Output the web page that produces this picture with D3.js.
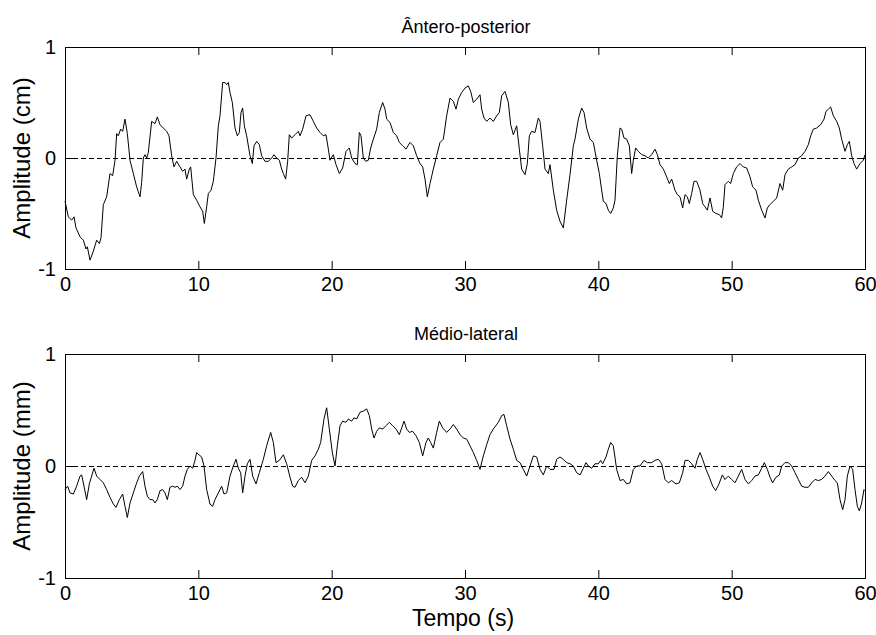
<!DOCTYPE html>
<html>
<head>
<meta charset="utf-8">
<script src="https://cdn.jsdelivr.net/npm/d3@7"></script>
<style>
  body { margin: 0; background: #fff; }
  text { font-family: "Liberation Sans", Arial, sans-serif; fill: #000; }
</style>
</head>
<body>
<svg width="876" height="635"></svg>
<script>
// time (s) and amplitude
var apTime = [0,0.25,0.5,0.675,0.825,1.125,1.375,1.575,1.675,1.875,2.125,2.375,2.575,2.7,2.875,3.125,3.375,3.575,3.75,3.875,
  4.0,4.175,4.325,4.5,4.675,4.875,5.125,5.375,5.625,5.75,5.875,6.0,6.125,6.25,6.5,6.75,6.925,7.125,7.375,7.625,
  7.8,8.0,8.175,8.375,8.625,8.825,9.0,9.125,9.325,9.425,9.625,9.875,10.125,10.325,10.45,10.625,10.75,10.95,11.125,11.325,
  11.5,11.625,11.825,12.0,12.125,12.25,12.375,12.55,12.75,12.925,13.075,13.2,13.325,13.45,13.625,13.875,14.05,14.175,14.375,14.575,
  14.75,15.0,15.25,15.5,15.675,15.875,16.075,16.25,16.375,16.55,16.7,16.825,17.0,17.25,17.5,17.625,17.825,18.075,18.375,18.625,
  18.875,19.125,19.375,19.575,19.75,19.875,20.125,20.325,20.575,20.825,21.075,21.325,21.5,21.75,21.925,22.075,22.2,22.375,22.55,22.75,
  22.925,23.125,23.375,23.575,23.825,24.0,24.125,24.375,24.625,24.875,25.075,25.325,25.575,25.875,26.125,26.375,26.625,26.825,27.0,27.175,
  27.375,27.625,27.875,28.125,28.375,28.625,28.875,29.125,29.325,29.5,29.75,30.0,30.25,30.425,30.625,30.875,31.125,31.25,31.425,31.625,
  31.875,32.125,32.375,32.575,32.75,33.0,33.25,33.425,33.625,33.875,34.075,34.25,34.5,34.675,34.825,35.0,35.25,35.5,35.625,35.825,
  36.0,36.25,36.375,36.625,36.875,37.125,37.375,37.625,37.875,38.125,38.25,38.5,38.75,38.925,39.125,39.375,39.625,39.875,40.075,40.25,
  40.375,40.575,40.75,40.925,41.125,41.25,41.425,41.625,41.75,41.925,42.125,42.325,42.5,42.625,42.8,43.0,43.25,43.5,43.75,44.0,
  44.25,44.425,44.625,44.875,45.125,45.325,45.5,45.75,45.925,46.125,46.325,46.5,46.675,46.825,47.0,47.175,47.375,47.625,47.825,48.0,
  48.175,48.375,48.575,48.825,49.075,49.25,49.375,49.5,49.75,49.925,50.125,50.375,50.625,50.875,51.125,51.375,51.575,51.825,52.0,52.25,
  52.5,52.675,52.875,53.125,53.375,53.625,53.825,54.0,54.25,54.5,54.75,55.0,55.25,55.5,55.75,55.925,56.125,56.375,56.675,56.925,
  57.075,57.25,57.425,57.625,57.875,58.075,58.25,58.5,58.675,58.825,59.0,59.175,59.375,59.625,59.875,60.0];
var apAmp = [-0.39,-0.53,-0.56,-0.53,-0.63,-0.71,-0.74,-0.82,-0.80,-0.92,-0.84,-0.74,-0.77,-0.72,-0.42,-0.35,-0.14,-0.16,-0.02,0.22,
  0.20,0.26,0.24,0.35,0.22,-0.02,-0.14,-0.26,-0.35,-0.22,0.0,0.03,0.0,0.05,0.33,0.31,0.37,0.30,0.27,0.24,
  0.20,0.02,-0.08,-0.03,-0.08,-0.12,-0.10,-0.19,-0.10,-0.08,-0.33,-0.38,-0.44,-0.48,-0.59,-0.44,-0.32,-0.29,-0.21,0.0,
  0.29,0.38,0.68,0.68,0.66,0.68,0.59,0.50,0.27,0.20,0.23,0.41,0.45,0.29,0.20,0.02,-0.05,0.11,0.15,0.12,
  0.02,-0.03,-0.03,0.0,0.03,0.0,-0.02,-0.10,-0.14,-0.19,-0.03,0.21,0.18,0.21,0.24,0.20,0.26,0.38,0.39,0.33,
  0.27,0.23,0.20,0.21,0.08,-0.02,0.03,-0.06,-0.14,-0.09,0.06,0.09,0.0,-0.05,-0.06,0.23,0.20,0.0,-0.03,-0.02,
  0.09,0.17,0.26,0.41,0.50,0.44,0.35,0.32,0.23,0.20,0.14,0.11,0.08,0.14,0.11,0.02,-0.05,-0.08,-0.19,-0.35,
  -0.23,-0.10,0.02,0.14,0.17,0.38,0.54,0.51,0.44,0.53,0.59,0.63,0.65,0.60,0.50,0.53,0.57,0.44,0.36,0.33,
  0.36,0.33,0.38,0.41,0.56,0.60,0.50,0.30,0.21,0.29,0.08,-0.10,-0.15,-0.05,0.20,0.24,0.23,0.36,0.33,0.11,
  -0.10,-0.14,-0.06,-0.29,-0.47,-0.57,-0.63,-0.38,-0.15,0.11,0.17,0.35,0.45,0.41,0.27,0.17,0.14,-0.02,-0.14,-0.29,
  -0.39,-0.41,-0.47,-0.50,-0.45,-0.38,0.02,0.27,0.26,0.18,0.17,0.11,-0.14,-0.02,0.09,0.06,0.03,0.02,0.0,0.03,
  0.08,0.03,-0.06,-0.10,-0.17,-0.23,-0.19,-0.29,-0.33,-0.35,-0.45,-0.33,-0.35,-0.41,-0.32,-0.21,-0.21,-0.29,-0.41,-0.44,
  -0.47,-0.36,-0.48,-0.50,-0.51,-0.54,-0.44,-0.24,-0.21,-0.23,-0.14,-0.08,-0.05,-0.08,-0.09,-0.17,-0.26,-0.29,-0.38,-0.47,
  -0.54,-0.45,-0.42,-0.39,-0.36,-0.23,-0.29,-0.15,-0.10,-0.08,-0.06,0.0,0.02,0.06,0.12,0.20,0.26,0.27,0.30,0.35,
  0.42,0.44,0.46,0.38,0.33,0.27,0.17,0.06,0.12,0.15,0.02,-0.05,-0.10,-0.05,-0.02,0.03];

var mlTime = [0,0.2,0.375,0.625,0.875,1.125,1.25,1.425,1.625,1.825,2.0,2.175,2.375,2.625,2.875,3.125,3.375,3.625,3.825,4.075,
  4.325,4.5,4.675,4.875,5.125,5.375,5.575,5.825,6.0,6.175,6.375,6.575,6.75,6.925,7.125,7.325,7.5,7.675,7.875,8.075,
  8.25,8.425,8.625,8.825,9.0,9.175,9.375,9.575,9.75,9.875,10.05,10.25,10.425,10.625,10.875,11.075,11.25,11.5,11.75,11.925,
  12.125,12.375,12.625,12.825,13.0,13.175,13.325,13.5,13.675,13.875,14.075,14.325,14.575,14.875,15.125,15.425,15.625,15.825,16.075,16.375,
  16.625,16.875,17.075,17.25,17.5,17.75,18.0,18.25,18.5,18.75,19.0,19.175,19.425,19.625,19.825,20.05,20.25,20.425,20.625,20.825,
  21.075,21.25,21.5,21.675,21.875,22.125,22.375,22.625,22.825,23.0,23.175,23.375,23.575,23.825,24.075,24.325,24.575,24.825,25.075,25.25,
  25.425,25.625,25.825,26.075,26.325,26.575,26.825,27.075,27.25,27.425,27.625,27.875,28.075,28.325,28.625,28.875,29.125,29.375,29.625,29.875,
  30.125,30.375,30.625,30.875,31.125,31.375,31.625,31.875,32.125,32.5,32.75,32.925,33.125,33.375,33.625,33.875,34.125,34.375,34.625,34.875,
  35.125,35.375,35.625,35.875,36.125,36.375,36.675,36.875,37.125,37.375,37.625,37.875,38.125,38.375,38.625,38.875,39.075,39.25,39.5,39.75,
  40.0,40.175,40.325,40.575,40.75,40.925,41.125,41.375,41.625,41.875,42.125,42.375,42.625,42.875,43.125,43.425,43.675,44.0,44.25,44.5,
  44.75,45.0,45.25,45.5,45.825,46.075,46.325,46.5,46.75,47.0,47.25,47.425,47.625,47.825,48.075,48.325,48.575,48.8,49.05,49.3,
  49.5,49.75,50.0,50.25,50.5,50.75,51.0,51.25,51.5,51.75,52.0,52.25,52.45,52.675,52.875,53.075,53.325,53.575,53.75,54.0,
  54.25,54.5,54.75,55.0,55.25,55.5,55.75,56.0,56.25,56.5,56.75,57.0,57.25,57.5,57.75,57.925,58.125,58.325,58.5,58.675,
  58.875,59.075,59.25,59.425,59.575,59.75,59.925,60.0];
var mlAmp = [-0.21,-0.18,-0.24,-0.25,-0.18,-0.09,-0.08,-0.18,-0.30,-0.16,-0.09,-0.02,-0.09,-0.12,-0.15,-0.21,-0.28,-0.34,-0.37,-0.30,
  -0.25,-0.36,-0.46,-0.33,-0.24,-0.15,-0.09,-0.05,-0.18,-0.27,-0.30,-0.30,-0.33,-0.30,-0.22,-0.21,-0.24,-0.30,-0.19,-0.18,
  -0.19,-0.18,-0.21,-0.18,-0.09,-0.03,0.0,-0.02,0.05,0.12,0.10,0.08,0.0,-0.21,-0.34,-0.36,-0.30,-0.24,-0.18,-0.25,
  -0.24,-0.09,0.0,0.06,-0.02,-0.06,-0.24,-0.09,0.02,0.06,-0.09,-0.16,-0.06,0.06,0.18,0.30,0.21,0.03,0.05,0.10,
  0.02,-0.10,-0.18,-0.19,-0.13,-0.10,-0.15,-0.09,0.05,0.09,0.15,0.21,0.42,0.52,0.33,0.12,0.0,0.18,0.36,0.40,
  0.39,0.42,0.40,0.43,0.42,0.48,0.49,0.51,0.45,0.33,0.25,0.31,0.34,0.33,0.36,0.39,0.36,0.33,0.28,0.34,
  0.40,0.33,0.30,0.31,0.27,0.21,0.09,0.21,0.25,0.21,0.16,0.30,0.40,0.34,0.30,0.33,0.37,0.33,0.28,0.25,
  0.24,0.18,0.12,0.05,-0.03,0.09,0.19,0.28,0.33,0.39,0.45,0.46,0.36,0.24,0.15,0.05,0.03,-0.03,-0.09,0.0,
  0.09,0.08,-0.03,-0.08,0.0,-0.03,-0.03,0.06,0.08,0.06,0.03,0.02,0.0,-0.06,-0.08,-0.02,0.03,0.0,-0.02,0.02,
  0.02,0.05,0.02,0.08,0.15,0.21,0.18,-0.03,-0.13,-0.12,-0.16,-0.15,-0.03,0.0,0.0,0.05,0.03,0.03,0.05,0.06,
  0.02,-0.12,-0.15,-0.13,-0.16,-0.15,-0.06,0.05,0.05,0.02,-0.02,0.06,0.12,0.06,-0.03,-0.10,-0.18,-0.22,-0.16,-0.08,
  -0.12,-0.09,-0.12,-0.15,-0.09,-0.03,-0.12,-0.16,-0.13,-0.09,-0.08,-0.02,0.03,-0.03,-0.10,-0.15,-0.10,-0.08,0.0,0.03,
  0.03,0.0,-0.06,-0.12,-0.18,-0.19,-0.19,-0.15,-0.12,-0.13,-0.12,-0.09,-0.05,-0.09,-0.13,-0.15,-0.30,-0.39,-0.30,-0.09,
  0.0,-0.03,-0.21,-0.36,-0.40,-0.33,-0.21,-0.22];

var xTicks = [0, 10, 20, 30, 40, 50, 60];
var yTicks = [-1, 0, 1];
var titles = ["Ântero-posterior", "Médio-lateral"];
var yLabels = ["Amplitude (cm)", "Amplitude (mm)"];
var xLabel = "Tempo (s)";

var svg = d3.select("svg");

var left = 65, right = 865;
var panels = [
  { top: 47, bottom: 269, time: apTime, amp: apAmp, title: titles[0], ylab: yLabels[0] },
  { top: 354, bottom: 578, time: mlTime, amp: mlAmp, title: titles[1], ylab: yLabels[1] }
];

var x = d3.scaleLinear().domain([0, 60]).range([left, right]);

// plain labels like "-1", "0", "1" (hyphen, no decimals)
function plain(d) { return String(d); }

panels.forEach(function(p) {
  var y = d3.scaleLinear().domain([-1, 1]).range([p.bottom, p.top]);
  var g = svg.append("g");

  // dashed zero line
  g.append("line")
    .attr("x1", left).attr("x2", right)
    .attr("y1", Math.round(y(0)) + 0.5).attr("y2", Math.round(y(0)) + 0.5)
    .attr("stroke", "#000")
    .attr("stroke-width", 1)
    .attr("stroke-dasharray", "5,3");

  var pts = p.time.map(function(t, i) { return [t, p.amp[i]]; });
  var line = d3.line()
    .x(function(d) { return x(d[0]); })
    .y(function(d) { return y(d[1]); });

  g.append("path")
    .datum(pts)
    .attr("d", line)
    .attr("fill", "none")
    .attr("stroke", "#000")
    .attr("stroke-width", 1)
    .attr("stroke-linejoin", "round");

  // axes, ticks pointing inward
  var bottomAxis = d3.axisBottom(x).tickValues(xTicks).tickSizeInner(-8).tickSizeOuter(0).tickPadding(8).tickFormat(plain);
  var topAxis = d3.axisTop(x).tickValues(xTicks).tickSizeInner(-8).tickSizeOuter(0).tickFormat("");
  var leftAxis = d3.axisLeft(y).tickValues(yTicks).tickSizeInner(-8).tickSizeOuter(0).tickPadding(9).tickFormat(plain);
  var rightAxis = d3.axisRight(y).tickValues(yTicks).tickSizeInner(-8).tickSizeOuter(0).tickFormat("");

  g.append("g").attr("transform", "translate(0," + p.bottom + ")").call(bottomAxis);
  g.append("g").attr("transform", "translate(0," + p.top + ")").call(topAxis);
  g.append("g").attr("transform", "translate(" + left + ",0)").call(leftAxis);
  g.append("g").attr("transform", "translate(" + right + ",0)").call(rightAxis);

  g.selectAll(".domain").remove();
  g.selectAll(".tick line").attr("stroke", "#000");
  g.selectAll(".tick text")
    .attr("fill", "#000")
    .style("font-family", "'Liberation Sans', Arial, sans-serif")
    .style("font-size", "20px");

  // box
  g.append("rect")
    .attr("x", left + 0.5).attr("y", p.top + 0.5)
    .attr("width", right - left).attr("height", p.bottom - p.top)
    .attr("fill", "none")
    .attr("stroke", "#000")
    .attr("stroke-width", 1);

  g.append("text")
    .attr("x", 466).attr("y", p.top - 14)
    .attr("text-anchor", "middle")
    .style("font-size", "18px")
    .text(p.title);

  g.append("text")
    .attr("transform", "translate(30," + ((p.top + p.bottom) / 2) + ") rotate(-90)")
    .attr("text-anchor", "middle")
    .style("font-size", "24px")
    .text(p.ylab);
});

svg.append("text")
  .attr("x", 463).attr("y", 626)
  .attr("text-anchor", "middle")
  .style("font-size", "23px")
  .text(xLabel);
</script>
</body>
</html>
